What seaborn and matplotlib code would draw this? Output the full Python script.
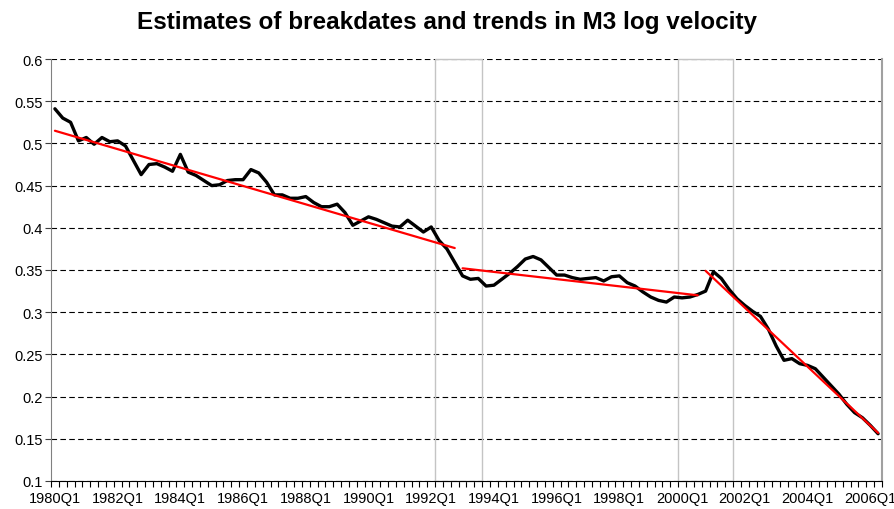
"""
Breakdates and segmented trends in M3 log velocity (quarterly, 1980Q1-2006Q2)
"""

import numpy as np
import pandas as pd
import matplotlib
matplotlib.use("Agg")
import matplotlib.pyplot as plt
from matplotlib.patches import Rectangle
from matplotlib.ticker import MultipleLocator
import seaborn as sns

# quarterly categories
quarters = [f"{1980 + k // 4}Q{k % 4 + 1}" for k in range(106)]

# log velocity of M3
velocity = [
    0.541, 0.530, 0.525, 0.503, 0.507, 0.499, 0.507, 0.502, 0.503, 0.497,
    0.480, 0.463, 0.475, 0.476, 0.472, 0.467, 0.487, 0.466, 0.462, 0.456,
    0.450, 0.451, 0.456, 0.457, 0.457, 0.469, 0.465, 0.454, 0.439, 0.439,
    0.435, 0.435, 0.437, 0.430, 0.425, 0.425, 0.428, 0.418, 0.403, 0.408,
    0.413, 0.410, 0.406, 0.402, 0.401, 0.409, 0.402, 0.395, 0.401, 0.385,
    0.375, 0.359, 0.343, 0.339, 0.340, 0.331, 0.332, 0.339, 0.346, 0.354,
    0.363, 0.366, 0.362, 0.353, 0.344, 0.344, 0.341, 0.339, 0.340, 0.341,
    0.337, 0.342, 0.343, 0.335, 0.331, 0.324, 0.318, 0.314, 0.312, 0.318,
    0.317, 0.318, 0.321, 0.325, 0.348, 0.340, 0.327, 0.316, 0.308, 0.301,
    0.295, 0.280, 0.260, 0.243, 0.245, 0.239, 0.237, 0.233, 0.223, 0.213,
    0.203, 0.191, 0.181, 0.175, 0.166, 0.156,
]

# estimated trend segments (start / end quarter and fitted value)
trend_start = ["1980Q1", "1993Q1", "2000Q4"]
trend_end = ["1992Q4", "2000Q3", "2006Q2"]
trend_start_val = [0.515, 0.352, 0.349]
trend_end_val = [0.376, 0.320, 0.157]

# confidence intervals of the breakdates (first / last quarter)
ci_first = ["1992Q2", "2000Q1"]
ci_last = ["1993Q3", "2001Q3"]

title = "Estimates of breakdates and trends in M3 log velocity"

sns.set_style("white")
plt.rcParams['font.family'] = ['Liberation Sans', 'DejaVu Sans']
plt.rcParams['text.color'] = 'black'
plt.rcParams['xtick.color'] = 'black'
plt.rcParams['ytick.color'] = 'black'

pos = {q: i for i, q in enumerate(quarters)}
df = pd.DataFrame({"x": np.arange(len(quarters)), "velocity": velocity})

fig = plt.figure(figsize=(8.95, 5.1), dpi=100)
ax = fig.add_axes([51 / 895, 28 / 510, 831 / 895, 422 / 510])

# breakdate confidence boxes
for a, b in zip(ci_first, ci_last):
    ax.add_patch(Rectangle((pos[a] - 0.5, 0.1), pos[b] - pos[a] + 1, 0.5,
                           fill=False, edgecolor="#c4c4c4", lw=1.0,
                           zorder=1.5, clip_on=False))

sns.lineplot(data=df, x="x", y="velocity", color="black", lw=2.4,
             ax=ax, zorder=3)

for s, e, vs, ve in zip(trend_start, trend_end, trend_start_val, trend_end_val):
    seg = pd.DataFrame({"x": [pos[s], pos[e]], "v": [vs, ve]})
    sns.lineplot(data=seg, x="x", y="v", color="red", lw=1.6, ax=ax, zorder=4)

ax.set_xlim(-0.5, len(quarters) - 0.5)
ax.set_ylim(0.1, 0.6)
ax.set_xlabel("")
ax.set_ylabel("")

yt = np.round(np.arange(0.1, 0.6001, 0.05), 2)
ax.set_yticks(yt)
ax.set_yticklabels([f"{v:g}" for v in yt])
ax.yaxis.grid(True, color="black", linestyle=(0, (5, 3)), lw=0.8)
ax.xaxis.grid(False)

ax.set_xticks(np.arange(0, len(quarters), 8))
ax.set_xticklabels(quarters[::8])
ax.xaxis.set_minor_locator(MultipleLocator(1, offset=0.5))
ax.tick_params(axis="x", which="major", length=0, pad=7, labelsize=10.5)
ax.tick_params(axis="x", which="minor", length=4, width=0.8, color="black",
               direction="out", bottom=True)
ax.tick_params(axis="y", length=4, width=0.8, color="#404040", pad=2,
               labelsize=10.5, left=True)

ax.spines["top"].set_visible(False)
ax.spines["left"].set_color("#808080")
ax.spines["right"].set_color("#a0a0a0")
ax.spines["right"].set_linewidth(1.5)
ax.spines["bottom"].set_color("black")
for side in ["left", "bottom"]:
    ax.spines[side].set_linewidth(0.8)

fig.text(0.5, 1 - 22 / 510, title, ha="center", va="center",
         fontsize=17.5, fontweight="bold", color="black")

fig.savefig("out.png", dpi=100)
